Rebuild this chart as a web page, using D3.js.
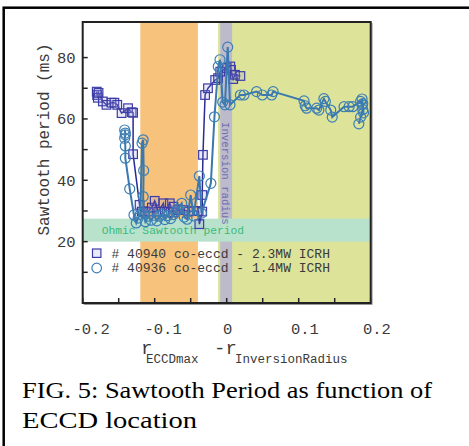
<!DOCTYPE html>
<html><head><meta charset="utf-8">
<script src="https://cdn.jsdelivr.net/npm/d3@7"></script>
<style>
html,body{margin:0;padding:0;background:#fff;}
svg{display:block;}
</style></head>
<body>
<svg id="chart" width="469" height="446"></svg>
<script>
// ---- data ----
const xTickValues = [-0.2,-0.15,-0.1,-0.05,0,0.05,0.1,0.15,0.2];
const xLabelValues = [-0.2,-0.1,0,0.1,0.2];
const yTickValues = [10,20,30,40,50,60,70,80];
const yLabelValues = [20,40,60,80];

const eccdBand = [-0.12,-0.04];
const inversionBand = [-0.009,0.0075];
const q1Region = [-0.012,0.2];
const ohmicBand = [20,27.5];

const sqX = [-0.1805,-0.180,-0.179,-0.178,-0.172,-0.167,-0.160,-0.156,-0.152,-0.146,-0.137,-0.132,-0.130,-0.130,-0.121,-0.118,-0.1135,-0.109,-0.104,-0.100,-0.095,-0.088,-0.086,-0.079,-0.075,-0.074,-0.068,-0.060,-0.053,-0.046,-0.039,-0.038,-0.034,-0.034,-0.033,-0.030,-0.026,-0.016,-0.012,-0.009,0.000,0.005,0.006,0.009,0.0115,0.019];
const sqY = [68.9,67.8,66.9,68.5,65.7,64.6,65.3,65.3,64.6,61.9,63.5,62.2,62.0,48.5,32.0,29.8,29.8,29.8,31.1,33.3,29.8,32.5,29.8,32.5,29.6,31.4,30.3,30.3,29.8,30.0,30.0,25.7,29.8,35.2,48.3,67.8,70.0,72.7,73.3,75.4,76.6,77.1,76.0,73.0,74.4,74.0];

const ciX = [-0.1417,-0.1408,-0.1408,-0.1417,-0.1408,-0.1408,-0.1347,-0.1288,-0.1256,-0.123,-0.120,-0.1176,-0.116,-0.1153,-0.116,-0.1158,-0.113,-0.109,-0.105,-0.101,-0.097,-0.093,-0.090,-0.086,-0.082,-0.078,-0.074,-0.071,-0.068,-0.0625,-0.059,-0.055,-0.050,-0.046,-0.038,-0.035,-0.022,-0.017,-0.0117,-0.0093,-0.0056,-0.0024,0.0014,0.0046,0.019,0.024,0.0415,0.0495,0.0625,0.0645,0.1074,0.109,0.111,0.125,0.128,0.135,0.137,0.1445,0.1466,0.163,0.170,0.175,0.186,0.188,0.189,0.1835,0.186,0.190,0.189,0.188];
const ciY = [56.4,55.4,54.8,53.7,51.2,47.2,37.2,28.7,26.1,27.7,28.9,52.1,53.2,43.2,34.7,29.4,26.5,28.3,27.0,28.6,26.8,28.3,29.0,27.2,28.5,27.5,28.8,29.6,30.6,32.5,28.0,27.3,35.2,28.4,41.4,29.3,39.0,60.7,77.1,79.3,65.5,64.6,83.4,64.6,67.8,67.8,68.9,67.8,67.8,68.9,65.9,64.3,63.5,63.5,62.9,66.6,65.7,62.9,60.6,64.0,64.0,64.0,65.7,64.6,63.0,58.4,60.6,62.0,65.0,66.5];

const legendLabels = ["# 40940 co-eccd - 2.3MW ICRH","# 40936 co-eccd - 1.4MW ICRH"];
const captionLines = ["FIG. 5: Sawtooth Period as function of","ECCD location"];

// ---- drawing ----
const mono = "'Courier New','Liberation Mono',monospace";
const txt = "#3a3a3a";
const svg = d3.select("#chart");
const L = 82.7, R = 370.7, T = 22, B = 303;
const x = d3.scaleLinear().domain([-0.2,0.2]).range([L,R]);
const y = d3.scaleLinear().domain([0,91.6]).range([B,T]);

// outer frame
svg.append("rect").attr("x",3.7).attr("y",7.7).attr("width",480).attr("height",460)
  .attr("fill","none").attr("stroke","#000").attr("stroke-width",2.5);

const plot = svg.append("g");
// regions
plot.append("rect").attr("x",x(eccdBand[0])).attr("y",T).attr("width",x(eccdBand[1])-x(eccdBand[0])).attr("height",B-T).attr("fill","#f6c27c");
plot.append("rect").attr("x",x(q1Region[0])).attr("y",T).attr("width",x(q1Region[1])-x(q1Region[0])).attr("height",B-T).attr("fill","#dde499");
plot.append("rect").attr("x",x(inversionBand[0])).attr("y",T).attr("width",x(inversionBand[1])-x(inversionBand[0])).attr("height",B-T).attr("fill","#bcbacb");
plot.append("rect").attr("x",L).attr("y",y(ohmicBand[1])).attr("width",R-L).attr("height",y(ohmicBand[0])-y(ohmicBand[1])).attr("fill","#b9e2cd");
plot.append("text").attr("x",L+19).attr("y",(y(ohmicBand[0])+y(ohmicBand[1]))/2).attr("dy","0.35em")
  .attr("font-family",mono).attr("font-size",11.3).attr("fill","#3cbb78").text("Ohmic Sawtooth period");
plot.append("text").attr("transform",`translate(${(x(inversionBand[0])+x(inversionBand[1]))/2},122) rotate(90)`)
  .attr("dy","0.35em").attr("font-family",mono).attr("font-size",10.7).attr("fill","#6e6eb4").text("Inversion radius");

// series lines
const sq = sqX.map((v,i)=>[v,sqY[i]]);
const ci = ciX.map((v,i)=>[v,ciY[i]]);
const line = d3.line().x(d=>x(d[0])).y(d=>y(d[1]));
plot.append("path").attr("d",line(sq)).attr("fill","none").attr("stroke","#2a2a92").attr("stroke-width",1.5);
plot.selectAll("rect.sq").data(sq).join("rect").attr("class","sq")
  .attr("x",d=>x(d[0])-4.3).attr("y",d=>y(d[1])-4.3).attr("width",8.6).attr("height",8.6)
  .attr("fill","rgba(150,150,225,0.2)").attr("stroke","#3c3ca6").attr("stroke-width",1.2);
plot.append("path").attr("d",line(ci)).attr("fill","none").attr("stroke","#3a78ad").attr("stroke-width",2);
plot.selectAll("circle.ci").data(ci).join("circle").attr("class","ci")
  .attr("cx",d=>x(d[0])).attr("cy",d=>y(d[1])).attr("r",5)
  .attr("fill","none").attr("stroke","#3d7fb5").attr("stroke-width",1.2);

// legend
plot.append("rect").attr("x",92.5).attr("y",249).attr("width",8.4).attr("height",8.4)
  .attr("fill","rgba(150,150,225,0.2)").attr("stroke","#3c3ca6").attr("stroke-width",1.2);
plot.append("circle").attr("cx",96.7).attr("cy",268).attr("r",4.8).attr("fill","none").attr("stroke","#3d7fb5").attr("stroke-width",1.2);
plot.selectAll("text.leg").data(legendLabels).join("text").attr("class","leg")
  .attr("x",111.5).attr("y",(d,i)=>253+i*14.7).attr("dy","0.35em")
  .attr("font-family",mono).attr("font-size",13).attr("fill",txt).text(d=>d);

// axes ticks (inward)
const ax = svg.append("g");
ax.selectAll("line.yt").data(yTickValues).join("line").attr("class","yt")
  .attr("x1",L).attr("x2",L+5).attr("y1",d=>y(d)).attr("y2",d=>y(d)).attr("stroke","#222").attr("stroke-width",1.5);
ax.selectAll("line.xt").data(xTickValues).join("line").attr("class","xt")
  .attr("y1",B).attr("y2",B-5).attr("x1",d=>x(d)).attr("x2",d=>x(d)).attr("stroke","#222").attr("stroke-width",1.5);
// frame
ax.append("line").attr("x1",R+1.3).attr("x2",R+1.3).attr("y1",T+1).attr("y2",B+1.5).attr("stroke","#999").attr("stroke-width",1.2);
ax.append("line").attr("x1",L+1).attr("x2",R+1.5).attr("y1",B+1.3).attr("y2",B+1.3).attr("stroke","#999").attr("stroke-width",1.2);
ax.append("rect").attr("x",L).attr("y",T).attr("width",R-L).attr("height",B-T)
  .attr("fill","none").attr("stroke","#222").attr("stroke-width",2);

// tick labels
ax.selectAll("text.yl").data(yLabelValues).join("text").attr("class","yl")
  .attr("x",75.5).attr("y",d=>y(d)).attr("dy","0.35em").attr("text-anchor","end")
  .attr("font-family",mono).attr("font-size",15.5).attr("fill",txt).text(d=>d3.format("d")(d));
ax.selectAll("text.xl").data(xLabelValues).join("text").attr("class","xl")
  .attr("x",d=>x(d)-(d<0?10.2:d>0?7.7:3.7)).attr("y",334)
  .attr("font-family",mono).attr("font-size",15.5).attr("fill",txt)
  .text(d=>d===0?"0":(d<0?"-":"")+d3.format(".1f")(Math.abs(d)));

// axis titles
svg.append("text").attr("transform","translate(43,139.5) rotate(-90)").attr("text-anchor","middle").attr("dy","0.35em")
  .attr("font-family",mono).attr("font-size",16).attr("fill",txt).text("Sawtooth period (ms)");
const xt = svg.append("text").attr("font-family",mono).attr("fill",txt);
xt.append("tspan").attr("x",141).attr("y",354).attr("font-size",19).text("r");
xt.append("tspan").attr("x",146).attr("y",363).attr("font-size",12.5).text("ECCDmax");
xt.append("tspan").attr("x",214).attr("y",354).attr("font-size",19).text("-r");
xt.append("tspan").attr("x",235).attr("y",363).attr("font-size",12.5).text("InversionRadius");

// caption
const cap = svg.append("g").attr("font-family","'Times New Roman','Liberation Serif',serif").attr("font-size",22.5).attr("fill","#000");
cap.append("text").attr("x",22).attr("y",398).attr("textLength",410).attr("lengthAdjust","spacingAndGlyphs").text(captionLines[0]);
cap.append("text").attr("x",22).attr("y",428).attr("textLength",175).attr("lengthAdjust","spacingAndGlyphs").text(captionLines[1]);
</script>
</body></html>
